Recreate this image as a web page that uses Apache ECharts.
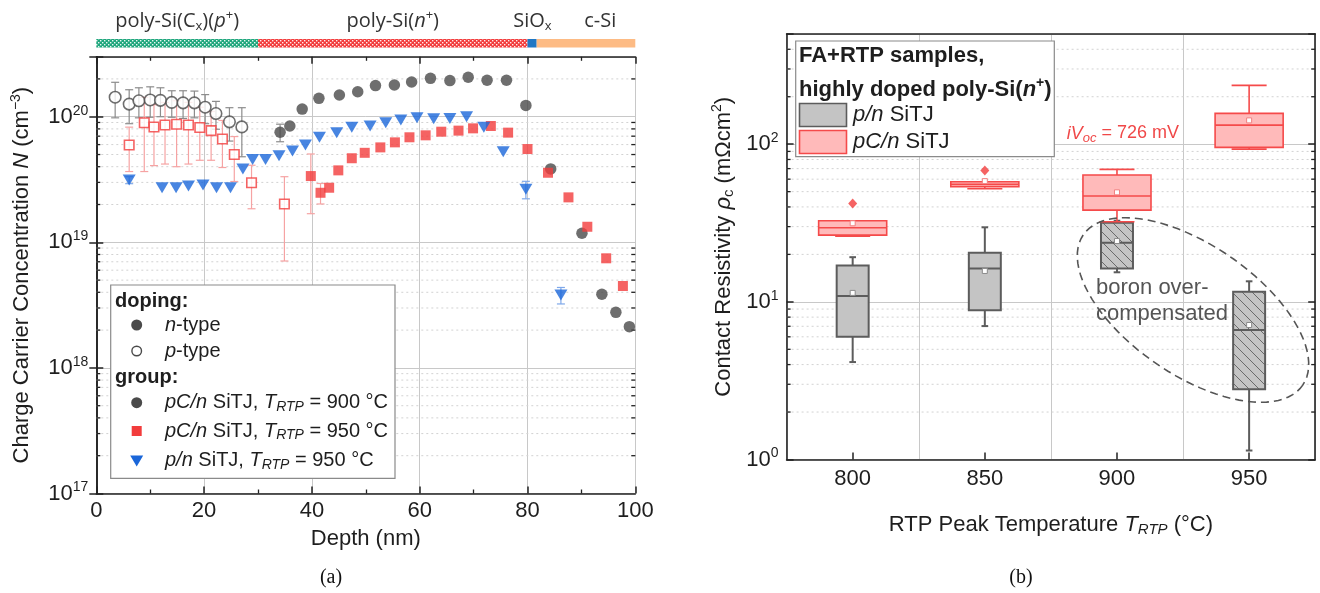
<!DOCTYPE html>
<html><head><meta charset="utf-8">
<script src="https://cdn.jsdelivr.net/npm/echarts@6/dist/echarts.min.js"></script>
<style>html,body{margin:0;padding:0;background:#fff}#c{width:1320px;height:593px}</style>
</head><body><div id="c"></div>
<script>
// ================= DATA (a): charge carrier concentration vs depth =================
// pC/n SiTJ, T_RTP = 900 °C, n-type (filled dark circles)
const depthN900 = [34.1, 35.9, 38.2, 41.3, 45.1, 48.5, 51.8, 55.3, 58.5, 62.0, 65.6, 69.0, 72.5, 76.1, 79.7, 84.3, 90.1, 93.8, 96.4, 98.9];
const concN900  = [7.52e19, 8.44e19, 1.15e20, 1.40e20, 1.49e20, 1.58e20, 1.77e20, 1.79e20, 1.89e20, 2.02e20, 1.94e20, 2.06e20, 1.95e20, 1.95e20, 1.23e20, 3.84e19, 1.18e19, 3.86e18, 2.77e18, 2.13e18];
const errN900   = [1.2e19, 0, 0, 0, 0, 0, 0, 0, 0, 0, 0, 0, 0, 0, 0, 0, 0, 0, 0, 0];
// pC/n SiTJ, T_RTP = 900 °C, p-type (open dark circles)
const depthP900 = [3.5, 6.1, 7.9, 10.0, 11.9, 14.0, 16.1, 18.2, 20.2, 22.2, 24.7, 27.0];
const concP900  = [1.43e20, 1.26e20, 1.34e20, 1.36e20, 1.35e20, 1.30e20, 1.29e20, 1.29e20, 1.19e20, 1.06e20, 9.1e19, 8.3e19];
const errP900   = [4.5e19, 3.8e19, 3.6e19, 3.7e19, 3.5e19, 3.1e19, 3.2e19, 3.1e19, 3.1e19, 2.65e19, 2.7e19, 3.5e19];
// pC/n SiTJ, T_RTP = 950 °C, n-type (filled red squares)
const depthN950 = [39.8, 41.6, 43.2, 44.9, 47.4, 49.8, 52.7, 55.4, 58.1, 61.1, 64.0, 67.2, 69.9, 73.2, 76.4, 80.0, 83.8, 87.6, 91.1, 94.6, 97.7];
const concN950  = [3.37e19, 2.48e19, 2.72e19, 3.74e19, 4.67e19, 5.16e19, 5.7e19, 6.25e19, 6.86e19, 7.11e19, 7.6e19, 7.75e19, 8.08e19, 8.44e19, 7.47e19, 5.53e19, 3.58e19, 2.28e19, 1.33e19, 7.46e18, 4.49e18];
const errN950   = [1.68e19, 4.6e18, 0, 0, 0, 0, 0, 0, 0, 0, 0, 0, 0, 0, 0, 0, 0, 0, 0, 0, 0];
// pC/n SiTJ, T_RTP = 950 °C, p-type (open red squares)
const depthP950 = [6.1, 8.9, 10.7, 12.75, 14.9, 17.1, 19.2, 21.3, 23.4, 25.6, 28.8, 34.9];
const concP950  = [5.96e19, 8.96e19, 8.28e19, 8.6e19, 8.7e19, 8.6e19, 8.2e19, 7.75e19, 6.64e19, 5.0e19, 2.98e19, 2.02e19];
const errP950   = [2.3e19, 5.3e19, 4.2e19, 4.4e19, 4.7e19, 4.4e19, 3.7e19, 3.25e19, 2.7e19, 1.95e19, 1.13e19, 1.31e19];
// p/n SiTJ, T_RTP = 950 °C (blue triangles)
const depthPN950 = [6.1, 12.2, 14.8, 17.1, 19.8, 22.3, 24.9, 27.2, 29.0, 31.4, 33.9, 36.4, 38.8, 41.4, 44.6, 47.4, 50.8, 53.7, 56.5, 59.5, 62.6, 65.6, 68.7, 71.9, 75.5, 79.7, 86.2];
const concPN950  = [3.13e19, 2.72e19, 2.72e19, 2.81e19, 2.86e19, 2.72e19, 2.72e19, 3.84e19, 4.57e19, 4.57e19, 4.9e19, 5.34e19, 5.96e19, 6.86e19, 7.47e19, 8.24e19, 8.44e19, 8.96e19, 9.42e19, 9.82e19, 9.64e19, 9.7e19, 1.0e20, 8.24e19, 5.26e19, 2.64e19, 3.8e18];
const errPN950   = [2.0e18, 0, 0, 0, 0, 0, 0, 0, 0, 0, 0, 0, 0, 0, 0, 0, 0, 0, 0, 0, 0, 0, 0, 0, 0, 4.2e18, 5.7e17];
// layer stack above panel (a)
const layerStart = [0, 30, 80, 81.7];
const layerEnd   = [30, 80, 81.7, 100];
const layerLabelAt = [15, 55, 80.9, 93.5];
const layerNames = ['poly-Si(C{sub|x})({i|p}{sup|+})', 'poly-Si({i|n}{sup|+})', 'SiO{sub|x}', 'c-Si'];
const depthTicks = [0, 20, 40, 60, 80, 100];

// ================= DATA (b): contact resistivity box plots =================
const tempCats = ['800', '850', '900', '950'];
// p/n SiTJ (gray)
const pnMin  = [4.15, 7.02, 15.4, 1.14];
const pnQ1   = [6.0, 8.84, 16.3, 2.79];
const pnMed  = [10.9, 16.3, 23.7, 6.62];
const pnQ3   = [17.0, 20.5, 31.7, 11.6];
const pnMax  = [19.2, 29.7, 32.7, 13.5];
const pnMean = [11.4, 15.7, 24.3, 7.13];
const pnBoronOver = [0, 0, 1, 1];
// pC/n SiTJ (red)
const pcMin  = [26.1, 52.2, 32.2, 93.1];
const pcQ1   = [26.5, 53.7, 38.2, 95.4];
const pcMed  = [29.5, 55.6, 46.9, 132.2];
const pcQ3   = [32.7, 57.8, 63.7, 156.8];
const pcMax  = [32.7, 57.8, 69.2, 236];
const pcMean = [31.5, 58.3, 49.5, 141.6];
const pcOutlierCat = [0, 1];
const pcOutlierVal = [42.1, 68.2];

// ================= helpers =================
const FONT = "'Liberation Sans', Arial, Helvetica, sans-serif";
const INK = '#1e1e1e';
const RED = '#f23c3c', DARK = '#4a4a4a', BLUE = '#1a66d9';
const minorMult = [2, 3, 4, 5, 6, 7, 8, 9];

function zip(a, b, c) { return a.map((v, i) => c ? [v, b[i], c[i]] : [v, b[i]]); }
function minorValues(decades, max) {
  const out = [];
  decades.forEach(e => minorMult.forEach(m => { const v = m * Math.pow(10, e); if (v < max * 0.999) out.push(v); }));
  return out;
}
function logLabel(v) {
  const e = Math.log10(v), r = Math.round(e);
  if (Math.abs(e - r) > 1e-6) return '';
  return '{b|10}{s|' + r + '}';
}
const logRich = {
  b: { fontSize: 22, fontFamily: FONT, color: INK },
  s: { fontSize: 14, fontFamily: FONT, color: INK, padding: [0, 0, 12, 0] }
};
const txtRich = (size) => ({
  i: { fontStyle: 'italic', fontSize: size, fontFamily: FONT, color: INK },
  b: { fontWeight: 'bold', fontSize: size, fontFamily: FONT, color: INK },
  bi: { fontWeight: 'bold', fontStyle: 'italic', fontSize: size, fontFamily: FONT, color: INK },
  sup: { fontSize: Math.round(size * 0.65), fontFamily: FONT, color: INK, padding: [0, 0, Math.round(size * 0.55), 0] },
  bsup: { fontWeight: 'bold', fontSize: Math.round(size * 0.65), fontFamily: FONT, color: INK, padding: [0, 0, Math.round(size * 0.55), 0] },
  sub: { fontStyle: 'italic', fontSize: Math.round(size * 0.7), fontFamily: FONT, color: INK, padding: [Math.round(size * 0.45), 0, 0, 0] },
  subr: { fontSize: Math.round(size * 0.7), fontFamily: FONT, color: INK, padding: [Math.round(size * 0.45), 0, 0, 0] }
});

function makePattern(size, draw) {
  const c = document.createElement('canvas'); c.width = size; c.height = size;
  draw(c.getContext('2d'), size);
  return { image: c, repeat: 'repeat' };
}
const dots = (bg) => makePattern(4, (g, s) => {
  g.fillStyle = bg; g.fillRect(0, 0, s, s);
  g.fillStyle = 'rgba(255,255,255,0.9)'; g.fillRect(0, 0, 1.4, 1.4); g.fillRect(2, 2, 1.4, 1.4);
});
const layerFill = [dots('#1ea67c'), dots('#f23c3c'), '#1f77c4', '#fdbb84'];
const hatch = makePattern(10, (g, s) => {
  g.fillStyle = '#c4c4c4'; g.fillRect(0, 0, s, s);
  g.strokeStyle = '#6a6a6a'; g.lineWidth = 1;
  g.beginPath(); g.moveTo(-1, -1); g.lineTo(s + 1, s + 1);
  g.moveTo(-1, s - 1); g.lineTo(1, s + 1); g.moveTo(s - 1, -1); g.lineTo(s + 1, 1); g.stroke();
});

function minorRender(tickLen) {
  return function (params, api) {
    const cs = params.coordSys;
    const y = api.coord([api.value(0), api.value(1)])[1];
    const x0 = cs.x, x1 = cs.x + cs.width;
    return { type: 'group', silent: true, children: [
      { type: 'line', shape: { x1: x0, y1: y, x2: x1, y2: y }, style: { stroke: '#d2d2d2', lineWidth: 1, lineDash: [2, 3] } },
      { type: 'line', shape: { x1: x0, y1: y, x2: x0 + tickLen, y2: y }, style: { stroke: '#222', lineWidth: 1.3 } },
      { type: 'line', shape: { x1: x1, y1: y, x2: x1 - tickLen, y2: y }, style: { stroke: '#222', lineWidth: 1.3 } }
    ]};
  };
}
function errRender(color) {
  return function (params, api) {
    const x = api.value(0), v = api.value(1), e = api.value(2);
    const top = api.coord([x, v + e]);
    const bot = api.coord([x, Math.max(v - e, 1e10)]);
    const cap = 4;
    const st = { stroke: color, lineWidth: 1.2 };
    return { type: 'group', children: [
      { type: 'line', shape: { x1: top[0], y1: top[1], x2: bot[0], y2: bot[1] }, style: st },
      { type: 'line', shape: { x1: top[0] - cap, y1: top[1], x2: top[0] + cap, y2: top[1] }, style: st },
      { type: 'line', shape: { x1: bot[0] - cap, y1: bot[1], x2: bot[0] + cap, y2: bot[1] }, style: st }
    ]};
  };
}
function boxRender(st) {
  return function (params, api) {
    const i = api.value(0);
    const c = k => api.coord([i, api.value(k)]);
    const pMin = c(1), pQ1 = c(2), pMed = c(3), pQ3 = c(4), pMax = c(5), pMean = c(6);
    const hatched = api.value(7);
    const band = api.size([1, 0])[0];
    const bw = band * st.boxFrac, cw = band * st.capFrac;
    const x = pMed[0];
    const ls = { stroke: st.stroke, lineWidth: st.lw };
    return { type: 'group', children: [
      { type: 'line', shape: { x1: x, y1: pMax[1], x2: x, y2: pQ3[1] }, style: ls },
      { type: 'line', shape: { x1: x, y1: pQ1[1], x2: x, y2: pMin[1] }, style: ls },
      { type: 'line', shape: { x1: x - cw / 2, y1: pMax[1], x2: x + cw / 2, y2: pMax[1] }, style: ls },
      { type: 'line', shape: { x1: x - cw / 2, y1: pMin[1], x2: x + cw / 2, y2: pMin[1] }, style: ls },
      { type: 'rect', shape: { x: x - bw / 2, y: pQ3[1], width: bw, height: pQ1[1] - pQ3[1] },
        style: { fill: hatched ? hatch : st.fill, stroke: st.stroke, lineWidth: st.lw } },
      { type: 'line', shape: { x1: x - bw / 2, y1: pMed[1], x2: x + bw / 2, y2: pMed[1] }, style: ls },
      { type: 'rect', shape: { x: pMean[0] - 2.5, y: pMean[1] - 2.5, width: 5, height: 5 },
        style: { fill: '#fff', stroke: st.meanStroke, lineWidth: 1 } }
    ]};
  };
}
function bandRender(params, api) {
  const idx = params.dataIndex;
  const p0 = api.coord([api.value(0), 1]);
  const p1 = api.coord([api.value(1), 0]);
  const pl = api.coord([api.value(2), 1]);
  return { type: 'group', children: [
    { type: 'rect', shape: { x: p0[0], y: p0[1], width: p1[0] - p0[0], height: p1[1] - p0[1] }, style: { fill: layerFill[idx] } },
    { type: 'text', style: { x: pl[0], y: p0[1] - 18, text: layerNames[idx], align: 'center', verticalAlign: 'middle',
        fontSize: 20, fontFamily: "'Open Sans', 'Noto Sans', sans-serif", fill: '#333',
        rich: {
          i: { fontStyle: 'italic', fontSize: 20, fontFamily: "'Open Sans', sans-serif", color: '#333' },
          sup: { fontSize: 13, fontFamily: "'Open Sans', sans-serif", color: '#333', padding: [0, 0, 11, 0] },
          sub: { fontSize: 13, fontFamily: "'Open Sans', sans-serif", color: '#333', padding: [11, 0, 0, 0] }
        } } }
  ]};
}

const axisLineSt = { show: true, lineStyle: { color: '#222', width: 1.6 } };
const tickSt = { show: true, inside: true, length: 7, lineStyle: { color: '#222', width: 1.5 } };
const splitSt = { show: true, lineStyle: { color: '#c8c8c8', width: 1 } };

// ellipse annotation (pixel layout)
const ellPts = (() => {
  const cx = 1193, cy = 310, a = 133, b = 65, th = 34.4 * Math.PI / 180, pts = [];
  for (let k = 0; k < 90; k++) {
    const t = k / 90 * 2 * Math.PI, ex = a * Math.cos(t), ey = b * Math.sin(t);
    pts.push([cx + ex * Math.cos(th) - ey * Math.sin(th), cy + ex * Math.sin(th) + ey * Math.cos(th)]);
  }
  return pts;
})();

const legA = 20;
const option = {
  animation: false,
  backgroundColor: '#fff',
  grid: [
    { left: 96.3, top: 56.8, width: 539, height: 436.7, outerBoundsMode: 'none' },
    { left: 96.3, top: 39, width: 539, height: 8.5, outerBoundsMode: 'none' },
    { left: 786.6, top: 34, width: 528.6, height: 425.5, outerBoundsMode: 'none' }
  ],
  xAxis: [
    { type: 'value', gridIndex: 0, min: depthTicks[0], max: depthTicks[depthTicks.length - 1], interval: 20, position: 'bottom',
      axisLine: axisLineSt, axisTick: tickSt,
      minorTick: { show: true, splitNumber: 2, length: 4, lineStyle: { color: '#222', width: 1.3 } },
      axisLabel: { fontSize: 22, fontFamily: FONT, color: INK, margin: 6 },
      splitLine: splitSt,
      name: 'Depth (nm)', nameLocation: 'middle', nameGap: 34,
      nameTextStyle: { fontSize: 22, fontFamily: FONT, color: INK } },
    { type: 'value', gridIndex: 0, min: 0, max: 100, interval: 20, position: 'top',
      axisLine: axisLineSt, axisTick: tickSt,
      minorTick: { show: true, splitNumber: 2, length: 4, lineStyle: { color: '#222', width: 1.3 } },
      axisLabel: { show: false }, splitLine: { show: false } },
    { type: 'value', gridIndex: 1, min: 0, max: 100, show: false },
    { type: 'category', gridIndex: 2, data: tempCats, boundaryGap: true, position: 'bottom',
      axisLine: axisLineSt, axisTick: Object.assign({}, tickSt, { alignWithLabel: true }),
      axisLabel: { fontSize: 22, fontFamily: FONT, color: INK, margin: 8 },
      splitLine: splitSt,
      name: 'RTP Peak Temperature {i|T}{sub|RTP} (°C)', nameLocation: 'middle', nameGap: 53,
      nameTextStyle: { fontSize: 22, fontFamily: FONT, color: INK, rich: txtRich(22) } },
    { type: 'category', gridIndex: 2, data: tempCats, boundaryGap: true, position: 'top',
      axisLine: axisLineSt, axisTick: { show: false }, axisLabel: { show: false }, splitLine: { show: false } }
  ],
  yAxis: [
    { type: 'log', logBase: 10, gridIndex: 0, min: 1e17, max: 3e20, position: 'left',
      axisLine: axisLineSt, axisTick: tickSt,
      axisLabel: { formatter: logLabel, rich: logRich, margin: 8 },
      splitLine: splitSt,
      name: 'Charge Carrier Concentration {i|N} (cm{sup|−3})', nameLocation: 'middle', nameGap: 61, nameRotate: 90,
      nameTextStyle: { fontSize: 22, fontFamily: FONT, color: INK, rich: txtRich(22) } },
    { type: 'log', logBase: 10, gridIndex: 0, min: 1e17, max: 3e20, position: 'right',
      axisLine: axisLineSt, axisTick: tickSt, axisLabel: { show: false }, splitLine: { show: false } },
    { type: 'value', gridIndex: 1, min: 0, max: 1, show: false },
    { type: 'log', logBase: 10, gridIndex: 2, min: 1, max: 500, position: 'left',
      axisLine: axisLineSt, axisTick: tickSt,
      axisLabel: { formatter: logLabel, rich: logRich, margin: 8 },
      splitLine: splitSt,
      name: 'Contact Resistivity {i|ρ}{subr|c} (mΩcm{sup|2})', nameLocation: 'middle', nameGap: 50, nameRotate: 90,
      nameTextStyle: { fontSize: 22, fontFamily: FONT, color: INK, rich: txtRich(22) } },
    { type: 'log', logBase: 10, gridIndex: 2, min: 1, max: 500, position: 'right',
      axisLine: axisLineSt, axisTick: tickSt, axisLabel: { show: false }, splitLine: { show: false } }
  ],
  series: [
    // minor log grid (a)
    { type: 'custom', xAxisIndex: 0, yAxisIndex: 0, z: 1, silent: true, renderItem: minorRender(4),
      encode: { x: 0, y: 1 }, data: minorValues([17, 18, 19, 20], 3e20).map(v => [50, v]) },
    // layer stack
    { type: 'custom', xAxisIndex: 2, yAxisIndex: 2, silent: true, renderItem: bandRender, clip: false,
      encode: { x: [0, 1] }, data: layerStart.map((s, i) => [s, layerEnd[i], layerLabelAt[i]]) },
    // error bars
    { type: 'custom', xAxisIndex: 0, yAxisIndex: 0, z: 2, silent: true, renderItem: errRender('#8c8c8c'),
      encode: { x: 0, y: 1 }, data: zip(depthP900, concP900, errP900).filter(d => d[2] > 0) },
    { type: 'custom', xAxisIndex: 0, yAxisIndex: 0, z: 2, silent: true, renderItem: errRender('#8c8c8c'),
      encode: { x: 0, y: 1 }, data: zip(depthN900, concN900, errN900).filter(d => d[2] > 0) },
    { type: 'custom', xAxisIndex: 0, yAxisIndex: 0, z: 2, silent: true, renderItem: errRender('#f6a3a3'),
      encode: { x: 0, y: 1 }, data: zip(depthP950, concP950, errP950).filter(d => d[2] > 0) },
    { type: 'custom', xAxisIndex: 0, yAxisIndex: 0, z: 2, silent: true, renderItem: errRender('#f6a3a3'),
      encode: { x: 0, y: 1 }, data: zip(depthN950, concN950, errN950).filter(d => d[2] > 0) },
    { type: 'custom', xAxisIndex: 0, yAxisIndex: 0, z: 2, silent: true, renderItem: errRender('#7fa8ea'),
      encode: { x: 0, y: 1 }, data: zip(depthPN950, concPN950, errPN950).filter(d => d[2] > 0) },
    // markers
    { type: 'scatter', name: 'p-type 900', xAxisIndex: 0, yAxisIndex: 0, z: 3, symbol: 'circle', symbolSize: 11.5,
      itemStyle: { color: '#fff', borderColor: DARK, borderWidth: 1.6 }, data: zip(depthP900, concP900) },
    { type: 'scatter', name: 'n-type 900', xAxisIndex: 0, yAxisIndex: 0, z: 3, symbol: 'circle', symbolSize: 11.5,
      itemStyle: { color: DARK }, data: zip(depthN900, concN900) },
    { type: 'scatter', name: 'p-type 950', xAxisIndex: 0, yAxisIndex: 0, z: 4, symbol: 'rect', symbolSize: 9.5,
      itemStyle: { color: '#fff', borderColor: RED, borderWidth: 1.6 }, data: zip(depthP950, concP950) },
    { type: 'scatter', name: 'n-type 950', xAxisIndex: 0, yAxisIndex: 0, z: 4, symbol: 'rect', symbolSize: 10,
      itemStyle: { color: RED }, data: zip(depthN950, concN950) },
    { type: 'scatter', name: 'p/n 950', xAxisIndex: 0, yAxisIndex: 0, z: 5, symbol: 'triangle', symbolRotate: 180, symbolSize: [13, 11],
      itemStyle: { color: BLUE }, data: zip(depthPN950, concPN950) },

    // minor log grid (b)
    { type: 'custom', xAxisIndex: 3, yAxisIndex: 3, z: 1, silent: true, renderItem: minorRender(4),
      encode: { x: 0, y: 1 }, data: minorValues([0, 1, 2], 500).map(v => [0, v]) },
    // box plots
    { type: 'custom', name: 'p/n SiTJ', xAxisIndex: 3, yAxisIndex: 3, z: 3,
      renderItem: boxRender({ boxFrac: 0.242, capFrac: 0.05, stroke: '#5c5c5c', fill: '#c4c4c4', lw: 2, meanStroke: '#8a8a8a' }),
      encode: { x: 0, y: 1 },
      data: tempCats.map((c, i) => [i, pnMin[i], pnQ1[i], pnMed[i], pnQ3[i], pnMax[i], pnMean[i], pnBoronOver[i]]) },
    { type: 'custom', name: 'pC/n SiTJ', xAxisIndex: 3, yAxisIndex: 3, z: 4,
      renderItem: boxRender({ boxFrac: 0.515, capFrac: 0.265, stroke: '#f54a4a', fill: '#ffbaba', lw: 1.6, meanStroke: '#f28080' }),
      encode: { x: 0, y: 1 },
      data: tempCats.map((c, i) => [i, pcMin[i], pcQ1[i], pcMed[i], pcQ3[i], pcMax[i], pcMean[i], 0]) },
    { type: 'scatter', name: 'outliers', xAxisIndex: 3, yAxisIndex: 3, z: 5, symbol: 'diamond', symbolSize: [9, 10],
      itemStyle: { color: '#f23c3c' }, data: zip(pcOutlierCat, pcOutlierVal) }
  ],
  graphic: [
    // legend (a)
    { type: 'rect', z: 100, shape: { x: 110.7, y: 285, width: 284.3, height: 193.3 }, style: { fill: '#fff', stroke: '#8a8a8a', lineWidth: 1.2 } },
    { type: 'text', z: 101, style: { x: 115, y: 301.7, text: 'doping:', fontSize: legA, fontWeight: 'bold', fontFamily: FONT, fill: INK, verticalAlign: 'middle' } },
    { type: 'circle', z: 101, shape: { cx: 136.7, cy: 325, r: 5.5 }, style: { fill: DARK } },
    { type: 'text', z: 101, style: { x: 165, y: 325, text: '{i|n}-type', rich: txtRich(legA), fontSize: legA, fontFamily: FONT, fill: INK, verticalAlign: 'middle' } },
    { type: 'circle', z: 101, shape: { cx: 136.7, cy: 351, r: 4.8 }, style: { fill: '#fff', stroke: DARK, lineWidth: 1.4 } },
    { type: 'text', z: 101, style: { x: 165, y: 351, text: '{i|p}-type', rich: txtRich(legA), fontSize: legA, fontFamily: FONT, fill: INK, verticalAlign: 'middle' } },
    { type: 'text', z: 101, style: { x: 115, y: 377.3, text: 'group:', fontSize: legA, fontWeight: 'bold', fontFamily: FONT, fill: INK, verticalAlign: 'middle' } },
    { type: 'circle', z: 101, shape: { cx: 136.7, cy: 402.7, r: 5.5 }, style: { fill: DARK } },
    { type: 'text', z: 101, style: { x: 165, y: 402.7, text: '{i|pC/n} SiTJ, {i|T}{sub|RTP} = 900 °C', rich: txtRich(legA), fontSize: legA, fontFamily: FONT, fill: INK, verticalAlign: 'middle' } },
    { type: 'rect', z: 101, shape: { x: 131.7, y: 426, width: 10, height: 10 }, style: { fill: RED } },
    { type: 'text', z: 101, style: { x: 165, y: 431, text: '{i|pC/n} SiTJ, {i|T}{sub|RTP} = 950 °C', rich: txtRich(legA), fontSize: legA, fontFamily: FONT, fill: INK, verticalAlign: 'middle' } },
    { type: 'polygon', z: 101, shape: { points: [[130.2, 455.5], [143.2, 455.5], [136.7, 466.5]] }, style: { fill: BLUE } },
    { type: 'text', z: 101, style: { x: 165, y: 460.7, text: '{i|p/n} SiTJ, {i|T}{sub|RTP} = 950 °C', rich: txtRich(legA), fontSize: legA, fontFamily: FONT, fill: INK, verticalAlign: 'middle' } },

    // legend (b)
    { type: 'rect', z: 100, shape: { x: 795.7, y: 41, width: 258.6, height: 115.7 }, style: { fill: '#fff', stroke: '#8a8a8a', lineWidth: 1.2 } },
    { type: 'text', z: 101, style: { x: 799, y: 56, text: 'FA+RTP samples,', fontSize: 22, fontWeight: 'bold', fontFamily: FONT, fill: INK, verticalAlign: 'middle' } },
    { type: 'text', z: 101, style: { x: 799, y: 89.5, text: '{b|highly doped poly-Si(}{bi|n}{bsup|+}{b|)}', rich: txtRich(22), fontSize: 22, fontWeight: 'bold', fontFamily: FONT, fill: INK, verticalAlign: 'middle' } },
    { type: 'rect', z: 101, shape: { x: 799.5, y: 103.5, width: 47, height: 23 }, style: { fill: '#c4c4c4', stroke: '#5c5c5c', lineWidth: 1.6 } },
    { type: 'text', z: 101, style: { x: 853, y: 115, text: '{i|p/n} SiTJ', rich: txtRich(22), fontSize: 22, fontFamily: FONT, fill: INK, verticalAlign: 'middle' } },
    { type: 'rect', z: 101, shape: { x: 799.5, y: 130.5, width: 47, height: 23 }, style: { fill: '#ffbaba', stroke: '#f54a4a', lineWidth: 1.6 } },
    { type: 'text', z: 101, style: { x: 853, y: 142, text: '{i|pC/n} SiTJ', rich: txtRich(22), fontSize: 22, fontFamily: FONT, fill: INK, verticalAlign: 'middle' } },

    // annotations (b)
    { type: 'text', z: 101, style: { x: 1066.7, y: 133.5, text: '{i|iV}{s|oc} = 726 mV', fontSize: 18, fontFamily: FONT, fill: '#f04848', verticalAlign: 'middle',
        rich: { i: { fontStyle: 'italic', fontSize: 18, fontFamily: FONT, color: '#f04848' },
                s: { fontStyle: 'italic', fontSize: 13, fontFamily: FONT, color: '#f04848', padding: [9, 0, 0, 0] } } } },
    { type: 'polygon', z: 50, shape: { points: ellPts }, style: { fill: 'none', stroke: '#555', lineWidth: 1.6, lineDash: [8, 5] } },
    { type: 'text', z: 101, style: { x: 1096, y: 287.7, text: 'boron over-', fontSize: 22, fontFamily: FONT, fill: '#555', verticalAlign: 'middle' } },
    { type: 'text', z: 101, style: { x: 1096, y: 314.3, text: 'compensated', fontSize: 22, fontFamily: FONT, fill: '#555', verticalAlign: 'middle' } },

    // panel labels
    { type: 'text', style: { x: 331, y: 578, text: '(a)', fontSize: 20, fontFamily: "'Liberation Serif', 'Times New Roman', serif", fill: '#111', align: 'center', verticalAlign: 'middle' } },
    { type: 'text', style: { x: 1021, y: 578, text: '(b)', fontSize: 20, fontFamily: "'Liberation Serif', 'Times New Roman', serif", fill: '#111', align: 'center', verticalAlign: 'middle' } }
  ]
};

const chart = echarts.init(document.getElementById('c'), null, { renderer: 'canvas' });
chart.setOption(option);
</script></body></html>
